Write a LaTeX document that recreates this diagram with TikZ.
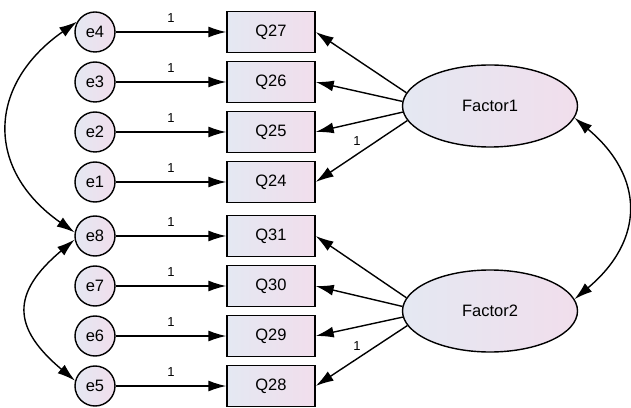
\documentclass[tikz,border=0pt]{standalone}
\usepackage{fontspec}
\setmainfont{Liberation Sans}
\usetikzlibrary{arrows.meta,shapes.geometric}
\definecolor{shadel}{RGB}{228,232,242}
\definecolor{shader}{RGB}{241,222,236}
\begin{document}
\begin{tikzpicture}[x=1pt,y=1pt,line width=1.4pt]
    \tikzstyle{marrs}=[-{Latex[length=18pt,width=11pt]}]
    \tikzstyle{darrs}=[{Latex[length=18pt,width=11pt]}-{Latex[length=18pt,width=11pt]}]
    \tikzstyle{errc}=[circle,draw,minimum size=40pt,inner sep=0pt,left color=shadel,right color=shader,font=\fontsize{16.5}{19}\selectfont]
    \tikzstyle{itembox}=[rectangle,draw,minimum width=88pt,minimum height=41pt,inner sep=0pt,left color=shadel,right color=shader,font=\fontsize{16.5}{19}\selectfont]
    \tikzstyle{factorell}=[ellipse,draw,minimum width=175pt,minimum height=82pt,inner sep=0pt,left color=shadel,right color=shader,font=\fontsize{16.5}{19}\selectfont]
    \tikzstyle{wlab}=[inner sep=0pt,font=\fontsize{13}{15}\selectfont]

    \useasboundingbox (0,0) rectangle (631,407);

    % error terms and items
    \foreach \n/\e/\y in {27/4/375, 26/3/325, 25/2/275, 24/1/225, 31/8/171, 30/7/121, 29/6/71, 28/5/21} {
        \node[errc] (e\e) at (95,\y) {e\e};
        \node[itembox] (q\n) at (271,\y) {Q\n};
        \draw[marrs] (e\e) -- node[wlab,above=9pt] {1} (q\n);
    }

    % factors
    \node[factorell] (f1) at (490,301) {Factor1};
    \node[factorell] (f2) at (490,96) {Factor2};

    \foreach \n/\a in {27/171, 26/177, 25/184} {
        \draw[marrs] (f1.\a) -- (q\n.east);
    }
    \draw[marrs] (f1.190) -- node[wlab,pos=0.55,above=8pt] {1} (q24.east);

    \foreach \n/\a in {31/171, 30/177, 29/184} {
        \draw[marrs] (f2.\a) -- (q\n.east);
    }
    \draw[marrs] (f2.190) -- node[wlab,pos=0.55,above=8pt] {1} (q28.east);

    % covariances
    \draw[darrs] (f1.-8) to[out=-40, in=40, looseness=1.3] (f2.8);
    \draw[darrs] (e4.150) to[out=215, in=145, looseness=1.33] (e8.170);
    \draw[darrs] (e8.190) to[out=220, in=140, looseness=1.5] (e5.165);

\end{tikzpicture}
\end{document}
